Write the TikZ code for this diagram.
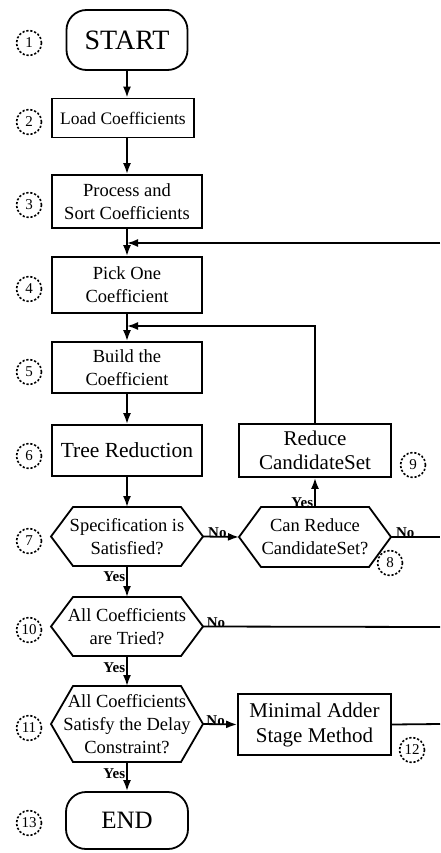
\documentclass[tikz,border=0pt]{standalone}
\usepackage{fontspec}
\setmainfont{Liberation Serif}
\usetikzlibrary{arrows.meta,calc}
\newcommand\myhex[6]{%
  \node[hextext] (#1) at (#2,#3) {#6};
  \coordinate (#1-w) at ({#2-#4},#3);
  \coordinate (#1-e) at ({#2+#4},#3);
  \coordinate (#1-n) at (#2,{#3-#5});
  \coordinate (#1-s) at (#2,{#3+#5});
  \draw[line,line join=miter] (#1-w) -- ({#2-#4+22},{#3-#5}) -- ({#2+#4-22},{#3-#5}) -- (#1-e) -- ({#2+#4-22},{#3+#5}) -- ({#2-#4+22},{#3+#5}) -- cycle;
}
\begin{document}
\begin{tikzpicture}[x=1pt,y=-1pt,
  line/.style={line width=1.8pt},
  arr/.style={line width=1.8pt,-{Latex[length=11pt,width=8pt]}},
  procbox/.style={draw,line width=1.8pt,inner sep=0pt,align=center,font=\fontsize{18.5}{23}\selectfont},
  termbox/.style={draw,line width=1.8pt,rounded corners=20pt,inner sep=0pt,font=\fontsize{25}{30}\selectfont},
  hextext/.style={inner sep=0pt,align=center,font=\fontsize{18.5}{23}\selectfont},
  num/.style={circle,draw,dash pattern=on 2.2pt off 1.8pt,line width=1.6pt,minimum size=25pt,inner sep=0pt,font=\fontsize{15}{15}\selectfont},
  lbl/.style={inner sep=0pt,font=\fontsize{15}{15}\selectfont\bfseries},
]
\useasboundingbox (0,0) rectangle (440,853);

% boxes
\node[termbox,minimum width=121pt,minimum height=60pt,font=\fontsize{28}{30}\selectfont] (start) at (127,40) {START};
\node[procbox,minimum width=142pt,minimum height=39pt,font=\fontsize{17.5}{22}\selectfont] (load) at (123,118) {Load Coefficients};
\node[procbox,minimum width=150pt,minimum height=53pt] (proc) at (127,201.5) {Process and\\Sort Coefficients};
\node[procbox,minimum width=150pt,minimum height=56pt] (pick) at (127,285) {Pick One\\Coefficient};
\node[procbox,minimum width=150pt,minimum height=51pt] (build) at (127,367.5) {Build the\\Coefficient};
\node[procbox,minimum width=150pt,minimum height=51pt,font=\fontsize{21.5}{26}\selectfont] (tree) at (127,450.5) {Tree Reduction};
\node[procbox,minimum width=152pt,minimum height=53pt,font=\fontsize{21}{24}\selectfont] (reduce) at (315,450.5) {Reduce\\CandidateSet};
\node[procbox,minimum width=153pt,minimum height=61pt,font=\fontsize{21}{25}\selectfont] (minadd) at (314.5,724.5) {Minimal Adder\\Stage Method};
\node[termbox,minimum width=122pt,minimum height=57pt] (end) at (127,820.5) {END};

% decisions
\myhex{h7}{127}{536.5}{76}{29.5}{Specification is\\Satisfied?}
\myhex{h8}{315}{537}{76}{30}{Can Reduce\\CandidateSet?}
\myhex{h10}{127}{626.5}{76}{29.5}{All Coefficients\\are Tried?}
\myhex{h11}{127}{724}{76}{38}{All Coefficients\\Satisfy the Delay\\Constraint?}

% step numbers
\node[num] (c1) at (29,43) {1};
\node[num] (c2) at (29,122) {2};
\node[num] (c3) at (29,205) {3};
\node[num] (c4) at (29,289) {4};
\node[num] (c5) at (29,372) {5};
\node[num] (c6) at (29,456) {6};
\node[num] (c7) at (29,541) {7};
\node[num] (c8) at (390,563) {8};
\node[num] (c9) at (413,465) {9};
\node[num] (c10) at (29,630) {10};
\node[num] (c11) at (29,728) {11};
\node[num] (c12) at (412,750) {12};
\node[num] (c13) at (29,823) {13};

% coordinates
\coordinate (e1) at (440,243);
\coordinate (j1) at (127,243);
\coordinate (j2) at (127,326);
\coordinate (e2) at (440,537);
\coordinate (e3) at (440,627);
\coordinate (e4) at (440,724);

% connectors
\draw[arr] (start.south) -- (start.south |- load.north);
\draw[arr] (start.south |- load.south) -- (proc.north);
\draw[arr] (proc.south) -- (pick.north);
\draw[arr] (e1) -- (j1);
\draw[arr] (pick.south) -- (build.north);
\draw[arr] (reduce.north) |- (j2);
\draw[arr] (build.south) -- (tree.north);
\draw[arr] (tree.south) -- (h7-n);
\draw[arr] (h7-e) -- (h8-w) node[lbl,pos=0.4,above=-2pt]{No};
\draw[arr] (h8-n) -- (reduce.south) node[lbl,pos=0.14,left=1pt]{Yes};
\draw[line] (h8-e) -- (e2) node[lbl,pos=0.29,above=-2pt]{No};
\draw[arr] (h7-s) -- (h10-n) node[lbl,pos=0.35,left=1pt]{Yes};
\draw[line] (h10-e) -- (e3) node[lbl,pos=0.055,above=-2pt]{No};
\draw[arr] (h10-s) -- (h11-n) node[lbl,pos=0.4,left=1pt]{Yes};
\draw[arr] (h11-e) -- (minadd.west) node[lbl,pos=0.37,above=-2pt]{No};
\draw[line] (minadd.east) -- (e4);
\draw[arr] (h11-s) -- (end.north) node[lbl,pos=0.4,left=1pt]{Yes};
\end{tikzpicture}
\end{document}
